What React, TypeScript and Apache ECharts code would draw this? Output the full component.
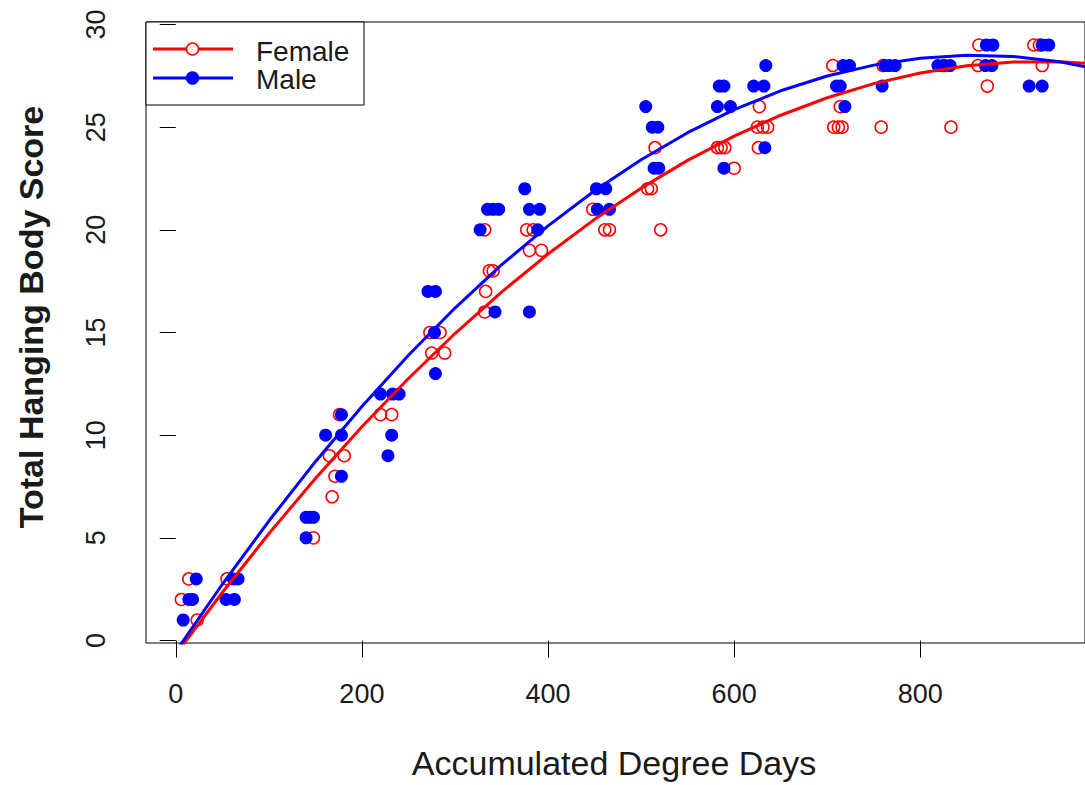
import React, { useEffect, useRef } from "react";
import * as echarts from "echarts";

// Accumulated Degree Days (x) and Total Hanging Body Score (y)
const femaleADD = [6, 14, 23, 55, 148, 168, 171, 165, 181, 176, 220, 232, 275, 289, 273, 284, 332, 333, 337, 341, 380, 393, 332, 377, 384, 461, 466, 521, 448, 507, 511, 600, 515, 582, 586, 590, 626, 625, 631, 636, 707, 712, 716, 758, 833, 627, 714, 872, 706, 760, 826, 862, 931, 863, 922, 928];
const femaleScore = [2, 3, 1, 3, 5, 7, 8, 9, 9, 11, 11, 11, 14, 14, 15, 15, 16, 17, 18, 18, 19, 19, 20, 20, 20, 20, 20, 20, 21, 22, 22, 23, 24, 24, 24, 24, 24, 25, 25, 25, 25, 25, 25, 25, 25, 26, 26, 27, 28, 28, 28, 28, 28, 29, 29, 29];

const maleADD = [8, 14, 18, 22, 54, 63, 62, 67, 140, 140, 144, 148, 178, 228, 161, 178, 232, 178, 220, 233, 240, 279, 278, 343, 380, 271, 279, 327, 389, 335, 341, 347, 380, 391, 453, 466, 375, 452, 462, 514, 519, 589, 633, 512, 518, 505, 582, 596, 719, 584, 589, 621, 632, 710, 714, 759, 917, 931, 634, 717, 724, 762, 767, 773, 819, 825, 832, 870, 877, 871, 878, 931, 938];
const maleScore = [1, 2, 2, 3, 2, 2, 3, 3, 5, 6, 6, 6, 8, 9, 10, 10, 10, 11, 12, 12, 12, 13, 15, 16, 16, 17, 17, 20, 20, 21, 21, 21, 21, 21, 21, 21, 22, 22, 22, 23, 23, 23, 24, 25, 25, 26, 26, 26, 26, 27, 27, 27, 27, 27, 27, 27, 27, 27, 28, 28, 28, 28, 28, 28, 28, 28, 28, 28, 28, 29, 29, 29, 29];

// fitted curves
const fitADD = [0, 50, 100, 150, 200, 250, 300, 350, 400, 450, 500, 550, 600, 650, 700, 750, 800, 850, 900, 950, 1000];
const femaleFit = [-0.68, 2.34, 5.2, 7.89, 10.41, 12.76, 14.95, 16.97, 18.82, 20.51, 22.03, 23.38, 24.56, 25.58, 26.43, 27.12, 27.64, 27.99, 28.17, 28.19, 28.04];
const maleFit = [-0.54, 2.74, 5.82, 8.71, 11.4, 13.89, 16.19, 18.29, 20.19, 21.9, 23.41, 24.73, 25.85, 26.77, 27.49, 28.02, 28.36, 28.5, 28.44, 28.18, 27.73];

const xTicks = [0, 200, 400, 600, 800];
const yTicks = [0, 5, 10, 15, 20, 25, 30];

const FONT = "'Liberation Sans', Arial, Helvetica, sans-serif";
const RED = "#ff0000";
const BLUE = "#0000ff";
const INK = "#1a1a1a";

const pair = (xs: number[], ys: number[]) => xs.map((x, i) => [x, ys[i]]);

export default function App() {
  const ref = useRef<HTMLDivElement>(null);

  useEffect(() => {
    const chart = echarts.init(ref.current as HTMLDivElement, null, { renderer: "svg" });
    chart.setOption({
      animation: false,
      backgroundColor: "#ffffff",
      grid: {
        left: 146,
        top: 22,
        width: 943,
        height: 621,
        show: true,
        borderColor: "#000",
        borderWidth: 1,
        backgroundColor: "transparent",
      },
      xAxis: {
        type: "value",
        min: -32,
        max: 977,
        axisLine: { show: false },
        splitLine: { show: false },
        axisTick: { show: true, length: 17, lineStyle: { color: "#000", width: 1 }, customValues: xTicks },
        axisLabel: { customValues: xTicks, fontSize: 27, color: INK, fontFamily: FONT, margin: 37 },
      },
      yAxis: {
        type: "value",
        min: -0.12,
        max: 30.12,
        axisLine: { show: false },
        splitLine: { show: false },
        axisTick: { show: true, length: 16, lineStyle: { color: "#000", width: 1 }, customValues: yTicks },
        axisLabel: { customValues: yTicks, fontSize: 27, color: INK, fontFamily: FONT, margin: 37, rotate: 90 },
      },
      series: [
        {
          name: "Female",
          type: "scatter",
          data: pair(femaleADD, femaleScore),
          symbol: "circle",
          symbolSize: 12,
          itemStyle: { color: "rgba(0,0,0,0)", borderColor: RED, borderWidth: 1.5, opacity: 1 },
          z: 2,
        },
        {
          name: "Male",
          type: "scatter",
          data: pair(maleADD, maleScore),
          symbol: "circle",
          symbolSize: 13,
          itemStyle: { color: BLUE, opacity: 1 },
          z: 3,
        },
        {
          name: "Female fit",
          type: "line",
          data: pair(fitADD, femaleFit),
          symbol: "none",
          showSymbol: false,
          lineStyle: { color: RED, width: 3 },
          z: 4,
        },
        {
          name: "Male fit",
          type: "line",
          data: pair(fitADD, maleFit),
          symbol: "none",
          showSymbol: false,
          lineStyle: { color: BLUE, width: 3 },
          z: 5,
        },
      ],
      graphic: [
        {
          type: "group",
          z: 100,
          children: [
            { type: "rect", shape: { x: 146, y: 22, width: 218, height: 83 }, style: { fill: "#fff", stroke: "#000", lineWidth: 1 } },
            { type: "line", shape: { x1: 153, y1: 49, x2: 233, y2: 49 }, style: { stroke: RED, lineWidth: 3 } },
            { type: "circle", shape: { cx: 192.5, cy: 49, r: 6 }, style: { fill: "#fff", stroke: RED, lineWidth: 1.5 } },
            { type: "line", shape: { x1: 153, y1: 78, x2: 233, y2: 78 }, style: { stroke: BLUE, lineWidth: 3 } },
            { type: "circle", shape: { cx: 192.5, cy: 78, r: 6.5 }, style: { fill: BLUE, stroke: BLUE, lineWidth: 0.5 } },
            { type: "text", x: 256, y: 51, style: { text: "Female", font: `28px ${FONT}`, fill: INK, verticalAlign: "middle", align: "left" } },
            { type: "text", x: 256, y: 79, style: { text: "Male", font: `28px ${FONT}`, fill: INK, verticalAlign: "middle", align: "left" } },
          ],
        },
        {
          type: "text",
          z: 100,
          x: 614,
          y: 763,
          style: { text: "Accumulated Degree Days", font: `34px ${FONT}`, fill: INK, align: "center", verticalAlign: "middle" },
        },
        {
          type: "text",
          z: 100,
          x: 31,
          y: 317,
          rotation: Math.PI / 2,
          style: { text: "Total Hanging Body Score", font: `bold 34px ${FONT}`, fill: INK, align: "center", verticalAlign: "middle" },
        },
      ],
    });
    return () => chart.dispose();
  }, []);

  return <div ref={ref} style={{ position: "fixed", left: 0, top: 0, width: 1085, height: 785 }} />;
}
